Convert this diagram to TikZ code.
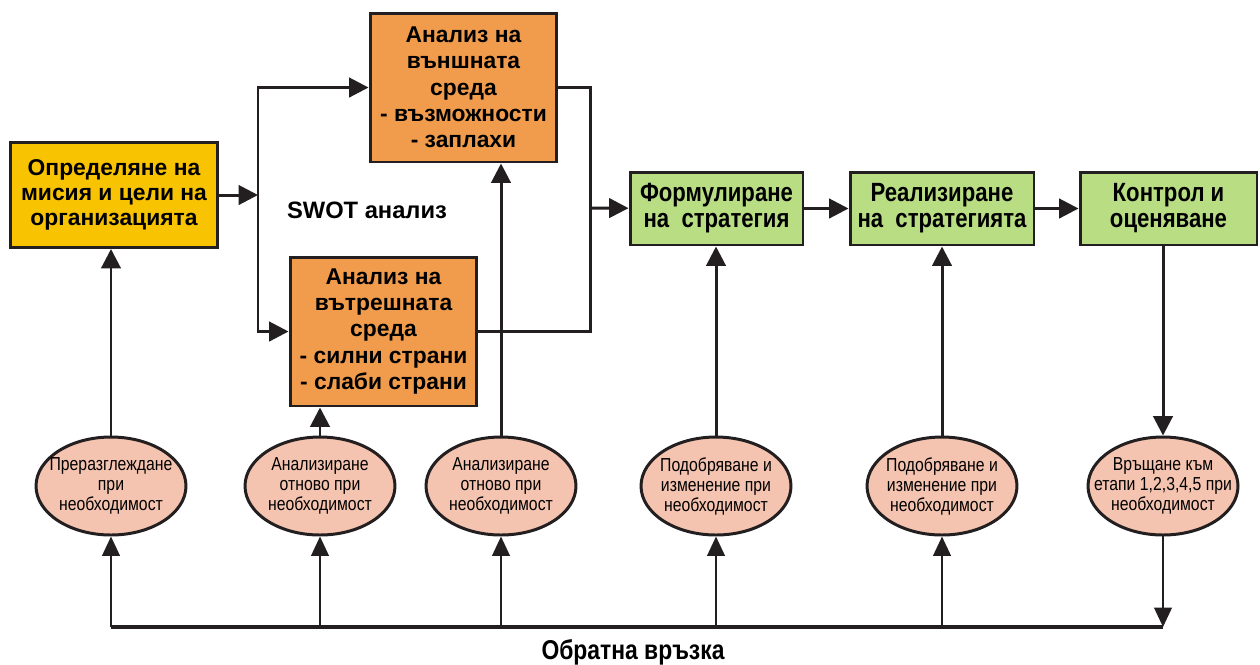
\documentclass[tikz,border=0pt]{standalone}
\usepackage{fontspec}
\setmainfont{Liberation Sans}
\newfontfamily\narrowfont[FakeStretch=0.84]{Liberation Sans}
\usetikzlibrary{arrows.meta,shapes.geometric}

\definecolor{missionyellow}{HTML}{F8C300}
\definecolor{analysisorange}{HTML}{F09C4C}
\definecolor{stagegreen}{HTML}{B9DD83}
\definecolor{feedbackpink}{HTML}{F5C4B0}
\definecolor{inkblack}{HTML}{231F20}

\begin{document}
\begin{tikzpicture}[x=0.02cm,y=-0.02cm,
    box/.style={draw=inkblack, line width=1.7pt, align=center, inner sep=0pt,
      font=\bfseries\fontsize{13}{15}\selectfont},
    stagebox/.style={box, fill=stagegreen, minimum height=1.46cm,
      font=\narrowfont\bfseries\fontsize{15}{14.8}\selectfont},
    loopnote/.style={ellipse, draw=inkblack, line width=1.7pt, fill=feedbackpink,
      minimum width=3cm, minimum height=1.96cm, inner xsep=-0.45cm, inner ysep=0pt,
      align=center, font=\narrowfont\fontsize{10.7}{11.4}\selectfont},
    arr/.style={draw=inkblack, line width=1.7pt, -{Triangle[length=11pt,width=11pt]}},
    thinarr/.style={draw=inkblack, line width=1.2pt, -{Triangle[length=11pt,width=10pt]}},
    link/.style={draw=inkblack, line width=1.7pt}]
  \useasboundingbox (0,0) rectangle (1260,664);

  % main stages
  \node[box, fill=missionyellow, minimum width=4.16cm, minimum height=2.1cm,
    font=\bfseries\fontsize{13}{14.3}\selectfont]
    (mission) at (114,195) {Определяне на\\мисия и цели на\\организацията};
  \node[box, fill=analysisorange, minimum width=3.74cm, minimum height=2.98cm]
    (external) at (463.5,87.5) {Анализ на\\външната\\среда\\- възможности\\- заплахи};
  \node[box, fill=analysisorange, minimum width=3.74cm, minimum height=2.98cm]
    (internal) at (383.5,331.5) {Анализ на\\вътрешната\\среда\\- силни страни\\- слаби страни};
  \node[stagebox, minimum width=3.46cm] (formulate) at (716.5,208.5) {Формулиране\\на\ \ стратегия};
  \node[stagebox, minimum width=3.68cm] (realize) at (942,208.5) {Реализиране\\на\ \ стратегията};
  \node[stagebox, minimum width=3.54cm] (control) at (1168.5,208.5) {Контрол и\\оценяване};

  \node[font=\bfseries\fontsize{13.5}{15}\selectfont] (swot) at (367,210) {SWOT анализ};

  % SWOT split and merge
  \coordinate (split) at (258,195);
  \coordinate (merge) at (590,208);
  \draw[arr] (mission) -- (split);
  \draw[arr] (split) |- (external);
  \draw[arr] (split) |- (internal);
  \draw[link] (external) -| (merge);
  \draw[link] (internal) -| (merge);
  \draw[arr] (merge) -- (formulate);
  \draw[arr] (formulate) -- (realize);
  \draw[arr] (realize) -- (control);

  % feedback ellipses
  \node[loopnote] (e1) at (111,486) {Преразглеждане\\при\\необходимост};
  \node[loopnote] (e2) at (320,486) {Анализиране\\отново при\\необходимост};
  \node[loopnote] (e3) at (501,486) {Анализиране\\отново при\\необходимост};
  \node[loopnote] (e4) at (716,486) {Подобряване и\\изменение при\\необходимост};
  \node[loopnote] (e5) at (942,486) {Подобряване и\\изменение при\\необходимост};
  \node[loopnote] (e6) at (1163,486) {Връщане към\\етапи 1,2,3,4,5 при\\необходимост};

  \draw[arr] (e1.north) -- (e1.north |- mission.south);
  \draw[arr] (e2.north) -- (e2.north |- internal.south);
  \draw[arr] (e3.north) -- (e3.north |- external.south);
  \draw[arr] (e4.north) -- (e4.north |- formulate.south);
  \draw[arr] (e5.north) -- (e5.north |- realize.south);
  \draw[arr] (control.south -| e6.north) -- (e6.north);

  % feedback line
  \coordinate (fbright) at (1163,627);
  \coordinate (fbleft) at (e1.south |- fbright);
  \draw[draw=inkblack, line width=2.3pt] (fbleft) -- (fbright);
  \draw[thinarr] (e6.south) -- (fbright);
  \foreach \e in {e1,e2,e3,e4,e5}
    \draw[thinarr] (\e.south |- fbright) -- (\e.south);
  \node[font=\narrowfont\bfseries\fontsize{15.5}{16}\selectfont] (fbtext) at (633,652) {Обратна връзка};
\end{tikzpicture}
\end{document}
